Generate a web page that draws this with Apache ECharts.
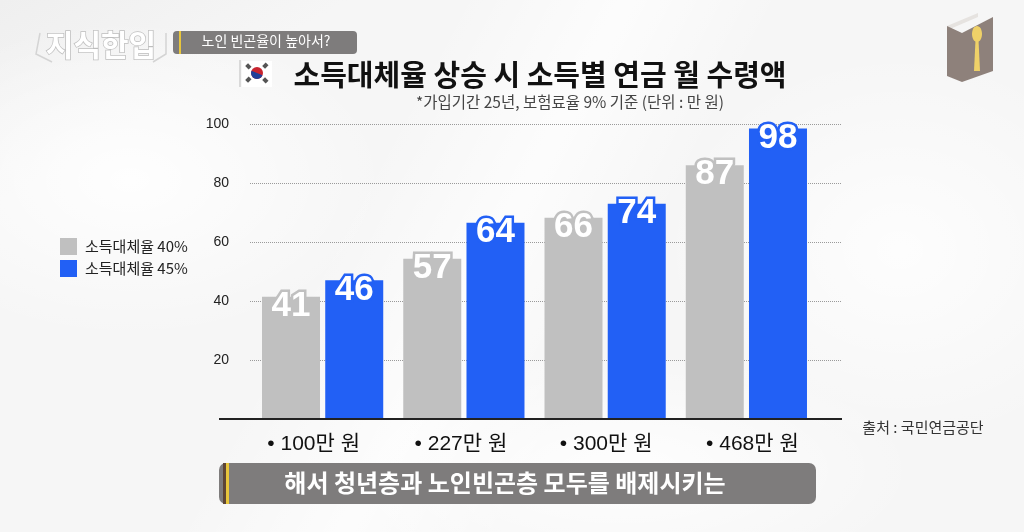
<!DOCTYPE html>
<html>
<head>
<meta charset="utf-8">
<script src="https://cdn.jsdelivr.net/npm/echarts@6/dist/echarts.min.js"></script>
<style>
  html, body { margin: 0; padding: 0; }
  body {
    width: 1024px; height: 532px; overflow: hidden;
    background:
      radial-gradient(ellipse 300px 120px at 620px 470px, rgba(255,255,255,.9), rgba(255,255,255,0)),
      radial-gradient(ellipse 260px 160px at 130px 180px, rgba(255,255,255,.9), rgba(255,255,255,0)),
      radial-gradient(ellipse 240px 200px at 900px 250px, rgba(255,255,255,.8), rgba(255,255,255,0)),
      linear-gradient(150deg, rgba(236,236,236,.7) 0%, rgba(255,255,255,0) 18%),
      linear-gradient(118deg, rgba(255,255,255,0) 35%, rgba(255,255,255,.7) 48%, rgba(255,255,255,0) 60%),
      #f6f6f6;
  }
  #chart { width: 1024px; height: 532px; }
</style>
</head>
<body>
<div id="chart"></div>
<script>
const categories = ["100만 원", "227만 원", "300만 원", "468만 원"];
// bar heights as drawn in the picture, they are a bit off the printed numbers
const height40 = [41.4, 54.3, 68.2, 86];
const height45 = [47, 66.5, 73, 98.5];
const printed40 = [41, 57, 66, 87];
const printed45 = [46, 64, 74, 98];
const seriesNames = ["소득대체율 40%", "소득대체율 45%"];

const GRAY = "#c0c0c0";
const BLUE = "#2260f5";
const KR = '"Noto Sans CJK KR", sans-serif';
const DIGITS = '"Liberation Sans", "Noto Sans CJK KR", sans-serif';

const barLabel = (color, printed) => ({
  show: true,
  position: "insideTop",
  offset: [0, -13],
  color: "#fff",
  fontFamily: DIGITS,
  fontWeight: "bold",
  fontSize: 35,
  textBorderColor: color,
  textBorderWidth: 5,
  formatter: (p) => printed[p.dataIndex],
});

const text = (x, y, value, size, color, extra) => ({
  type: "text",
  x,
  y,
  style: Object.assign({
    text: value,
    fontFamily: KR,
    fontSize: size,
    fill: color,
    textAlign: "center",
    textVerticalAlign: "middle",
  }, extra),
  z: 20,
});

const chart = echarts.init(document.getElementById("chart"));
chart.setOption({
  animation: false,
  backgroundColor: "transparent",
  legend: {
    left: 55,
    top: 233,
    orient: "vertical",
    itemWidth: 17,
    itemHeight: 17,
    itemGap: 5,
    icon: "rect",
    data: seriesNames,
    textStyle: { fontFamily: KR, fontSize: 15, color: "#222", padding: [0, 0, 0, 3] },
  },
  // first grid only carries the dotted lines, they run wider than the bars
  grid: [
    { left: 250, top: 124, width: 592, height: 295 },
    { left: 252, top: 124, width: 565, height: 295 },
  ],
  xAxis: [
    { type: "category", gridIndex: 0, data: categories, show: false },
    {
      type: "category",
      gridIndex: 1,
      data: categories,
      axisLine: { show: false },
      axisTick: { show: false },
      axisLabel: {
        interval: 0,
        hideOverlap: false,
        margin: 15,
        fontFamily: DIGITS,
        fontSize: 21,
        color: "#111",
        formatter: (v, i) => `{p${i}|• ${v}}`,
        rich: {
          p0: { padding: [0, 18, 0, 0], fontFamily: DIGITS, fontSize: 21, color: "#111" },
          p1: { padding: [0, 6, 0, 0], fontFamily: DIGITS, fontSize: 21, color: "#111" },
          p2: { padding: [0, 0, 0, 2], fontFamily: DIGITS, fontSize: 21, color: "#111" },
          p3: { padding: [0, 0, 0, 12], fontFamily: DIGITS, fontSize: 21, color: "#111" },
        },
      },
    },
  ],
  yAxis: [
    {
      type: "value",
      gridIndex: 0,
      min: 0,
      max: 100,
      interval: 20,
      axisLine: { show: false },
      axisTick: { show: false },
      axisLabel: {
        margin: 21,
        fontFamily: DIGITS,
        fontSize: 14,
        color: "#222",
        formatter: (v) => (v === 0 ? "" : v),
      },
      splitLine: { lineStyle: { color: "#9a9a9a", type: [1, 1], width: 1 } },
    },
    { type: "value", gridIndex: 1, min: 0, max: 100, interval: 20, show: false },
  ],
  series: [
    {
      name: seriesNames[0],
      type: "bar",
      xAxisIndex: 1,
      yAxisIndex: 1,
      data: height40,
      barWidth: 58,
      barGap: "9%",
      itemStyle: { color: GRAY },
      label: barLabel(GRAY, printed40),
    },
    {
      name: seriesNames[1],
      type: "bar",
      xAxisIndex: 1,
      yAxisIndex: 1,
      data: height45,
      barWidth: 58,
      itemStyle: { color: BLUE },
      label: barLabel(BLUE, printed45),
    },
  ],
  graphic: [
    // baseline
    { type: "line", shape: { x1: 219, y1: 419, x2: 842, y2: 419 }, style: { stroke: "#222", lineWidth: 2 }, z: 10 },

    // logo
    text(101, 45, "지식한입", 30, "#fff", { fontWeight: "bold", stroke: "#bdbdbd", lineWidth: 1.5 }),
    { type: "polyline", shape: { points: [[40, 33], [36, 54], [52, 62]] }, style: { stroke: "#d4d4d4", fill: null, lineWidth: 1.5 }, z: 20 },
    { type: "polyline", shape: { points: [[166, 33], [166, 54], [153, 62]] }, style: { stroke: "#d4d4d4", fill: null, lineWidth: 1.5 }, z: 20 },

    // top tag
    { type: "rect", shape: { x: 173, y: 31, width: 184, height: 23, r: 4 }, style: { fill: "#7e7c7c" }, z: 15 },
    { type: "rect", shape: { x: 179, y: 31, width: 2, height: 23 }, style: { fill: "#e8c63c" }, z: 16 },
    text(266, 41, "노인 빈곤율이 높아서?", 14, "#fff"),

    // flag
    { type: "line", shape: { x1: 240, y1: 60, x2: 240, y2: 87 }, style: { stroke: "#bbb", lineWidth: 1 }, z: 15 },
    { type: "rect", shape: { x: 242, y: 61, width: 30, height: 26 }, style: { fill: "#fff" }, z: 15 },
    { type: "circle", shape: { cx: 257, cy: 73, r: 6 }, style: { fill: "#c8242f" }, z: 16 },
    { type: "sector", shape: { cx: 257, cy: 73, r: 6, startAngle: 0.4, endAngle: 3.54 }, style: { fill: "#1f3f9a" }, z: 17 },
    { type: "rect", shape: { x: 246, y: 64, width: 5, height: 4 }, rotation: -0.8, originX: 248, originY: 66, style: { fill: "#555" }, z: 16 },
    { type: "rect", shape: { x: 263, y: 64, width: 5, height: 4 }, rotation: 0.8, originX: 265, originY: 66, style: { fill: "#555" }, z: 16 },
    { type: "rect", shape: { x: 246, y: 78, width: 5, height: 4 }, rotation: 0.8, originX: 248, originY: 80, style: { fill: "#555" }, z: 16 },
    { type: "rect", shape: { x: 263, y: 78, width: 5, height: 4 }, rotation: -0.8, originX: 265, originY: 80, style: { fill: "#555" }, z: 16 },

    // titles
    text(540, 75, "소득대체율 상승 시 소득별 연금 월 수령액", 29, "#111", { fontWeight: "bold" }),
    text(570, 102, "*가입기간 25년, 보험료율 9% 기준 (단위 : 만 원)", 15.5, "#444"),

    // book icon
    { type: "polygon", shape: { points: [[947, 26], [978, 13], [978, 17], [950, 29]] }, style: { fill: "#e6e3e0" }, z: 15 },
    { type: "polygon", shape: { points: [[947, 26], [962, 33], [993, 17], [993, 71], [962, 82], [947, 76]] }, style: { fill: "#8e817b" }, z: 16 },
    { type: "ellipse", shape: { cx: 977, cy: 34, rx: 5, ry: 8 }, style: { fill: "#efd168" }, z: 17 },
    { type: "polygon", shape: { points: [[975.5, 40], [978.5, 40], [980, 71], [974, 71]] }, style: { fill: "#efd168" }, z: 17 },

    // source
    text(923, 427, "출처 : 국민연금공단", 15, "#333"),

    // bottom banner
    { type: "rect", shape: { x: 219, y: 463, width: 597, height: 41, r: 7 }, style: { fill: "#7e7c7c" }, z: 15 },
    { type: "rect", shape: { x: 226, y: 463, width: 3, height: 41 }, style: { fill: "#e8c63c" }, z: 16 },
    { type: "rect", shape: { x: 223, y: 463, width: 3, height: 41 }, style: { fill: "#5e4535" }, z: 16 },
    text(505, 483, "해서 청년층과 노인빈곤층 모두를 배제시키는", 24, "#fff", { fontWeight: "bold" }),
  ],
});
</script>
</body>
</html>
